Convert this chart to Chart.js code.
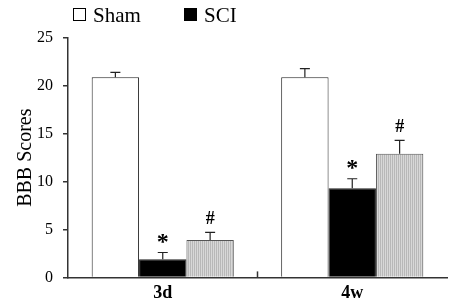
<!DOCTYPE html>
<html>
<head>
<meta charset="utf-8">
<script src="https://cdn.jsdelivr.net/npm/chart.js@4/dist/chart.umd.min.js"></script>
<style>
  html, body { margin: 0; padding: 0; background: #fff; }
  #wrap { width: 454px; height: 307px; }
</style>
</head>
<body>
<div id="wrap"><canvas id="chart"></canvas></div>
<script>
const categories = ['3d', '4w'];
const seriesNames = ['Sham', 'SCI', ''];
const shamValues = [20.9, 20.9];
const sciValues = [1.9, 9.3];
const treatedValues = [3.9, 12.9];
const shamErrors = [0.5, 0.9];
const sciErrors = [0.7, 1.0];
const treatedErrors = [0.8, 1.4];
const shamMarks = ['', ''];
const sciMarks = ['*', '*'];
const treatedMarks = ['#', '#'];
const yTicks = [0, 5, 10, 15, 20, 25];

const serif = '"Liberation Serif", "Times New Roman", serif';

// light gray fill with thin vertical stripes
function stripePattern() {
    const c = document.createElement('canvas');
    c.width = 2;
    c.height = 4;
    const g = c.getContext('2d');
    g.fillStyle = '#d8d8d8';
    g.fillRect(0, 0, 2, 4);
    g.fillStyle = '#b8b8b8';
    g.fillRect(0, 0, 1, 4);
    return g.createPattern(c, 'repeat');
}

const errorBars = {
    id: 'errorBars',
    afterDatasetsDraw(chart) {
        const ctx = chart.ctx;
        const y = chart.scales.y;
        ctx.save();
        chart.data.datasets.forEach((ds, i) => {
            const meta = chart.getDatasetMeta(i);
            meta.data.forEach((bar, j) => {
                const top = y.getPixelForValue(ds.data[j] + ds.errors[j]);
                ctx.strokeStyle = '#222';
                ctx.lineWidth = 1.2;
                ctx.beginPath();
                ctx.moveTo(bar.x, bar.y);
                ctx.lineTo(bar.x, top);
                ctx.moveTo(bar.x - 5, top);
                ctx.lineTo(bar.x + 5, top);
                ctx.stroke();
                const mark = ds.marks[j];
                if (mark) {
                    ctx.fillStyle = '#000';
                    ctx.textAlign = 'center';
                    ctx.textBaseline = 'alphabetic';
                    if (mark === '*') {
                        ctx.font = 'bold 24px ' + serif;
                        ctx.fillText(mark, bar.x, top - 4);
                    } else {
                        ctx.font = 'bold 18px ' + serif;
                        ctx.fillText(mark, bar.x, top - 8);
                    }
                }
            });
        });
        // tick between categories, pointing up
        const x = chart.scales.x;
        const mid = (x.getPixelForValue(0) + x.getPixelForValue(1)) / 2;
        ctx.strokeStyle = '#333';
        ctx.lineWidth = 1.5;
        ctx.beginPath();
        ctx.moveTo(mid, y.bottom);
        ctx.lineTo(mid, y.bottom - 6);
        ctx.stroke();
        ctx.restore();
    }
};

const topLegend = {
    id: 'topLegend',
    afterDraw(chart) {
        const ctx = chart.ctx;
        ctx.save();
        ctx.font = '21px ' + serif;
        ctx.textBaseline = 'alphabetic';
        ctx.textAlign = 'left';
        const items = [
            { x: 73, fill: '#fff', name: seriesNames[0] },
            { x: 184, fill: '#000', name: seriesNames[1] }
        ];
        items.forEach(it => {
            ctx.fillStyle = it.fill;
            ctx.fillRect(it.x, 8, 12, 12);
            ctx.strokeStyle = '#000';
            ctx.lineWidth = 1;
            ctx.strokeRect(it.x + 0.5, 8.5, 12, 12);
            ctx.fillStyle = '#000';
            ctx.fillText(it.name, it.x + 20, 22);
        });
        ctx.restore();
    }
};

const common = {
    borderColor: '#222',
    borderWidth: 1,
    categoryPercentage: 0.75,
    barPercentage: 1.0
};

new Chart(document.getElementById('chart'), {
    type: 'bar',
    data: {
        labels: categories,
        datasets: [
            { ...common, label: seriesNames[0], data: shamValues, errors: shamErrors, marks: shamMarks, backgroundColor: '#fff' },
            { ...common, label: seriesNames[1], data: sciValues, errors: sciErrors, marks: sciMarks, backgroundColor: '#000' },
            { ...common, label: seriesNames[2], data: treatedValues, errors: treatedErrors, marks: treatedMarks, backgroundColor: stripePattern(), borderColor: '#555' }
        ]
    },
    options: {
        responsive: true,
        maintainAspectRatio: false,
        animation: false,
        layout: { padding: { top: 38, right: 7, left: 14, bottom: -2 } },
        plugins: {
            legend: { display: false },
            tooltip: { enabled: false }
        },
        scales: {
            x: {
                grid: { display: false, drawTicks: false },
                border: { display: true, color: '#333', width: 1.5 },
                ticks: {
                    color: '#000',
                    padding: 5,
                    font: { family: serif, size: 18, weight: 'bold' }
                }
            },
            y: {
                min: 0,
                max: 25,
                afterBuildTicks: (axis) => {
                    axis.ticks = yTicks.map(v => ({ value: v }));
                },
                afterFit: (axis) => {
                    axis.width = 54;
                },
                grid: { drawOnChartArea: false, tickLength: 5, color: '#333', lineWidth: 1.5 },
                border: { display: true, color: '#333', width: 1.5 },
                ticks: {
                    color: '#000',
                    padding: 10,
                    font: { family: serif, size: 16 }
                },
                title: {
                    display: true,
                    text: 'BBB Scores',
                    color: '#000',
                    padding: { top: 0, bottom: 0 },
                    font: { family: serif, size: 20 }
                }
            }
        }
    },
    plugins: [errorBars, topLegend]
});
</script>
</body>
</html>
